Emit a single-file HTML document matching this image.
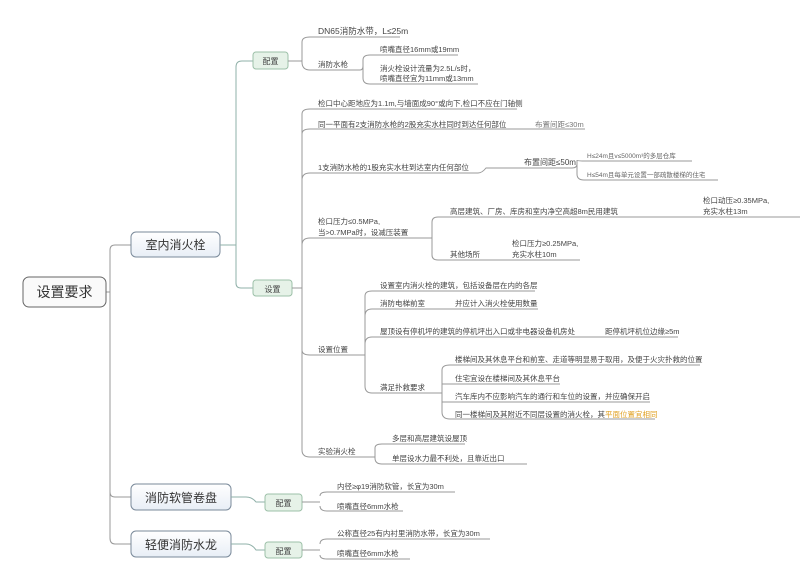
<!DOCTYPE html>
<html><head><meta charset="utf-8"><style>
html,body{margin:0;padding:0;background:#fff}
svg{display:block}
text{font-family:"Liberation Sans","Noto Sans CJK SC",sans-serif;fill:#444;font-size:7.5px}
.u{stroke:#aaa;stroke-width:1;fill:none}
.l{stroke:#999;stroke-width:1;fill:none}
.g{stroke:#8fb0a8;stroke-width:1;fill:none}
</style></head><body>
<svg width="800" height="584" viewBox="0 0 800 584">
<defs><linearGradient id="bg" x1="0" y1="0" x2="0" y2="1"><stop offset="0" stop-color="#ffffff"/><stop offset="1" stop-color="#e8eef6"/></linearGradient></defs>
<path class="l" d="M106 292 H110 M110 250 V538 M110 250 Q110 245 115 245 H131 M110 492 Q110 497 115 497 H131 M110 538 Q110 544 115 544 H131" stroke="#8a9aa8"/>
<rect x="23" y="277" width="83" height="30" rx="6" fill="#fafafa" stroke="#666"/>
<text x="64.5" y="297" text-anchor="middle" style="font-size:14px;fill:#333">设置要求</text>
<rect x="131" y="232" width="89" height="25" rx="5" fill="url(#bg)" stroke="#7a8a9a"/>
<text x="175.5" y="249" text-anchor="middle" style="font-size:12px;fill:#333">室内消火栓</text>
<rect x="131" y="484" width="100" height="26" rx="5" fill="url(#bg)" stroke="#7a8a9a"/>
<text x="181" y="502" text-anchor="middle" style="font-size:12px;fill:#333">消防软管卷盘</text>
<rect x="131" y="531" width="100" height="26" rx="5" fill="url(#bg)" stroke="#7a8a9a"/>
<text x="181" y="549" text-anchor="middle" style="font-size:12px;fill:#333">轻便消防水龙</text>
<path class="g" d="M220 245 H236 M236 67 V283 Q236 288 241 288 H253 M236 67 Q236 61 242 61 H253"/>
<rect x="253" y="52" width="35" height="17" rx="3" fill="#e6f2e8" stroke="#9cc0a8"/>
<text x="270.5" y="64" text-anchor="middle" style="font-size:8px">配置</text>
<rect x="253" y="280" width="39" height="16" rx="3" fill="#e6f2e8" stroke="#9cc0a8"/>
<text x="272.5" y="292" text-anchor="middle" style="font-size:8px">设置</text>
<path class="l" d="M288 61 H302 M302 42 V62 Q302 70 310 70 H360 Q363 70 363 66 M302 42 Q302 37 310 37 H400 M363 60 V78 Q363 84 370 84 H478 M363 60 Q363 55 370 55 H458"/>
<text x="318" y="34" style="font-size:8.5px">DN65消防水带，L≤25m</text>
<text x="318" y="67">消防水枪</text>
<text x="380" y="52">喷嘴直径16mm或19mm</text>
<text x="380" y="71">消火栓设计流量为2.5L/s时，</text>
<text x="380" y="81">喷嘴直径宜为11mm或13mm</text>
<path class="l" d="M292 288 H302 M302 114 V450 Q302 457 310 457 H375"/>
<path class="l" d="M302 114 Q302 109 310 109 H517 M302 134 Q302 129 310 129 H585 M302 180 Q302 173 310 173 H478 Q482 173 486 168 H572 Q577 168 577 164 M577 160 V174 Q577 180 584 180 H718 M577 160 Q577 161 584 161 H692 M302 245 Q302 238 310 238 H432 M432 222 V255 Q432 260 438 260 H580 M432 222 Q432 217 438 217 H800 M302 350 Q302 355 310 355 H365"/>
<text x="318" y="106">检口中心距地应为1.1m,与墙面成90°或向下,检口不应在门轴侧</text>
<text x="318" y="127">同一平面有2支消防水枪的2股充实水柱同时到达任何部位</text>
<text x="535" y="127" style="fill:#777">布置间距≤30m</text>
<text x="318" y="170">1支消防水枪的1股充实水柱到达室内任何部位</text>
<text x="524" y="165" style="font-size:8px">布置间距≤50m</text>
<text x="587" y="158" style="font-size:6.5px;fill:#666">H≤24m且v≤5000m³的多层仓库</text>
<text x="587" y="177" style="font-size:6.5px;fill:#666">H≤54m且每单元设置一部疏散楼梯的住宅</text>
<text x="318" y="224">检口压力≤0.5MPa,</text>
<text x="318" y="235">当&gt;0.7MPa时，设减压装置</text>
<text x="450" y="214">高层建筑、厂房、库房和室内净空高超8m民用建筑</text>
<text x="703" y="203">检口动压≥0.35MPa,</text>
<text x="703" y="214">充实水柱13m</text>
<text x="512" y="246">检口压力≥0.25MPa,</text>
<text x="512" y="257">充实水柱10m</text>
<text x="450" y="257">其他场所</text>
<path class="l" d="M365 355 V296 Q365 291 372 291 H535 M365 316 Q365 309 372 309 H538 M365 344 Q365 337 372 337 H678 M365 355 V386 Q365 393 372 393 H442 M442 370 V412 Q442 419 450 419 H655 M442 370 Q442 365 450 365 H700 M442 384 Q442 384 450 384 H560 M442 402 Q442 402 450 402 H650"/>
<text x="318" y="352">设置位置</text>
<text x="380" y="288">设置室内消火栓的建筑，包括设备层在内的各层</text>
<text x="380" y="306">消防电梯前室</text>
<text x="455" y="306">并应计入消火栓使用数量</text>
<text x="380" y="334">屋顶设有停机坪的建筑的停机坪出入口或非电器设备机房处</text>
<text x="605" y="334">距停机坪机位边缘≥5m</text>
<text x="380" y="390">满足扑救要求</text>
<text x="455" y="362">楼梯间及其休息平台和前室、走道等明显易于取用，及便于火灾扑救的位置</text>
<text x="455" y="381">住宅宜设在楼梯间及其休息平台</text>
<text x="455" y="399">汽车库内不应影响汽车的通行和车位的设置，并应确保开启</text>
<text x="455" y="417">同一楼梯间及其附近不同层设置的消火栓，其<tspan style="fill:#e0a020">平面位置宜相同</tspan></text>
<path class="l" d="M375 457 V448 Q375 444 382 444 H465 M375 457 V458 Q375 464 382 464 H527"/>
<text x="318" y="454">实验消火栓</text>
<text x="392" y="441">多层和高层建筑设屋顶</text>
<text x="392" y="461">单层设水力最不利处，且靠近出口</text>
<path class="g" d="M231 497 H246 Q252 497 256 502 H265 M231 544 H246 Q252 544 256 550 H265"/>
<rect x="265" y="494" width="37" height="17" rx="3" fill="#e6f2e8" stroke="#9cc0a8"/>
<text x="283.5" y="506" text-anchor="middle" style="font-size:8px">配置</text>
<rect x="265" y="542" width="37" height="16" rx="3" fill="#e6f2e8" stroke="#9cc0a8"/>
<text x="283.5" y="554" text-anchor="middle" style="font-size:8px">配置</text>
<path class="l" d="M302 502 H320 M320 496 Q320 492 327 492 H455 M320 506 Q320 511 327 511 H403 M302 550 H320 M320 544 Q320 539 327 539 H490 M320 555 Q320 559 327 559 H410"/>
<text x="337" y="489">内径≥φ19消防软管，长宜为30m</text>
<text x="337" y="509">喷嘴直径6mm水枪</text>
<text x="337" y="536">公称直径25有内衬里消防水带，长宜为30m</text>
<text x="337" y="556">喷嘴直径6mm水枪</text>
</svg>
</body></html>
